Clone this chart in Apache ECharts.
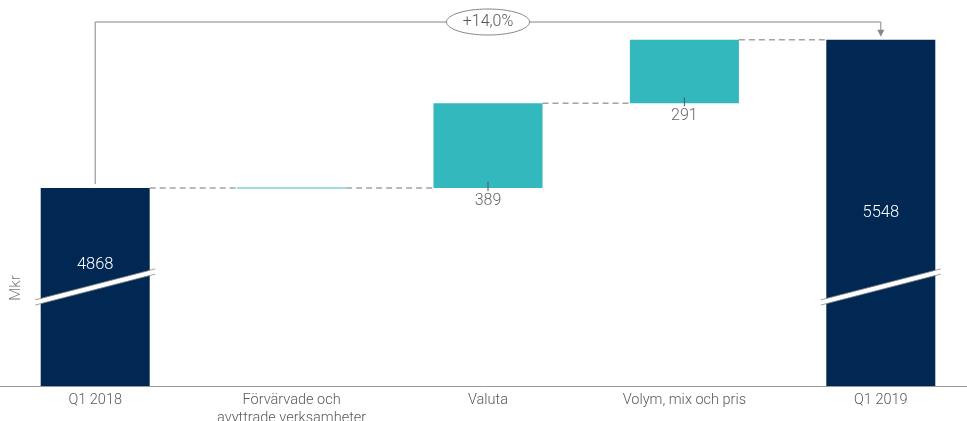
<!DOCTYPE html>
<html><head><meta charset="utf-8">
<script src="https://cdn.jsdelivr.net/npm/echarts@6/dist/echarts.min.js"></script>
<style>html,body{margin:0;padding:0;background:#fff}#c{width:967px;height:421px}</style>
</head><body><div id="c"></div>
<script>
const categories = ['Q1 2018', 'Förvärvade och\navyttrade verksamheter', 'Valuta', 'Volym, mix och pris', 'Q1 2019'];
const startTotal = 4868;
const endTotal = 5548;
const deltas = [0, 389, 291];
const changeLabel = '+14,0%';
const yAxisName = 'Mkr';
const yMin = 3960;
const yMax = 5630;

const NAVY = '#012753', TEAL = '#32b8bd', GREY = '#666';
const BAR_W = 109;
const FONT = 'Roboto';

// build series arrays
const n = categories.length;
const cum = [startTotal];
deltas.forEach(d => cum.push(cum[cum.length - 1] + d));
const baseVals = [0], deltaVals = [0], totalVals = [startTotal];
deltas.forEach((d, i) => { baseVals.push(cum[i]); deltaVals.push(d); totalVals.push(0); });
baseVals.push(0); deltaVals.push(0); totalVals.push(endTotal);

const chart = echarts.init(document.getElementById('c'));
chart.setOption({
  animation: false,
  grid: { left: -3, right: -12, top: 22, bottom: 35, outerBoundsMode: 'none', containLabel: false },
  xAxis: {
    type: 'category', data: categories,
    axisLine: { lineStyle: { color: '#9a9a9a', width: 1 } },
    axisTick: { show: false },
    axisLabel: { color: '#595959', fontSize: 14.5, fontFamily: FONT, fontWeight: 300, margin: 5, lineHeight: 18, interval: 0 }
  },
  yAxis: { type: 'value', min: yMin, max: yMax, show: false, splitLine: { show: false } },
  series: [
    { type: 'bar', stack: 'w', barWidth: BAR_W, data: baseVals, itemStyle: { color: 'transparent' }, silent: true },
    { type: 'bar', stack: 'w', barWidth: BAR_W, data: deltaVals, itemStyle: { color: TEAL },
      label: { show: true, position: 'bottom', distance: 5, color: GREY, fontSize: 16, fontFamily: FONT, fontWeight: 300,
        formatter: p => p.value ? String(p.value) : '' } },
    { type: 'bar', stack: 'w', barWidth: BAR_W,
      data: totalVals.map((v, i) => i === 0 ? { value: v, label: { offset: [0, -22] } } : v),
      itemStyle: { color: NAVY },
      label: { show: true, position: 'inside', color: '#fff', fontSize: 16.5, fontFamily: FONT, fontWeight: 300,
        formatter: p => p.value ? String(p.value) : '' } },
    { type: 'custom', z: 10, data: [[0, startTotal]],
      renderItem: function (params, api) {
        const ch = [];
        const pt = (i, v) => api.coord([i, v]);
        const half = BAR_W / 2;
        // connectors
        for (let i = 0; i < n - 1; i++) {
          const a = pt(i, cum[i]), b = pt(i + 1, cum[i]);
          ch.push({ type: 'line', shape: { x1: a[0] + half, y1: a[1], x2: b[0] - half, y2: b[1] },
            style: { stroke: '#a3a3a3', lineWidth: 1.5, lineDash: [6, 4] } });
        }
        // zero deltas & value ticks
        deltas.forEach((d, k) => {
          const i = k + 1;
          const c = pt(i, cum[k]);
          if (d === 0) {
            ch.push({ type: 'line', shape: { x1: c[0] - half, y1: c[1], x2: c[0] + half, y2: c[1] },
              style: { stroke: '#7fd3d6', lineWidth: 1.5 } });
          } else {
            ch.push({ type: 'line', shape: { x1: c[0], y1: c[1] - 6, x2: c[0], y2: c[1] + 3 },
              style: { stroke: '#555', lineWidth: 1 } });
          }
        });
        // axis breaks on total bars
        const bottom = pt(0, yMin)[1];
        [0, n - 1].forEach(i => {
          const cx = pt(i, yMin)[0], cy = bottom - 99;
          const L = 60, s = 15.5, t = 2.6;
          ch.push({ type: 'polygon', shape: { points: [[cx - L, cy + s - t], [cx + L, cy - s - t], [cx + L, cy - s + t], [cx - L, cy + s + t]] },
            style: { fill: '#fff' } });
          ch.push({ type: 'line', shape: { x1: cx - L, y1: cy + s - t, x2: cx + L, y2: cy - s - t }, style: { stroke: '#8a8a8a', lineWidth: 0.8 } });
          ch.push({ type: 'line', shape: { x1: cx - L, y1: cy + s + t, x2: cx + L, y2: cy - s + t }, style: { stroke: '#8a8a8a', lineWidth: 0.8 } });
        });
        // bracket
        const s0 = pt(0, startTotal), e0 = pt(n - 1, endTotal), top = pt(0, yMax)[1];
        const BC = '#8c8480';
        ch.push({ type: 'polyline', shape: { points: [[s0[0], s0[1] - 4], [s0[0], top], [e0[0], top], [e0[0], e0[1] - 8]] },
          style: { stroke: BC, lineWidth: 1, fill: null } });
        ch.push({ type: 'polygon', shape: { points: [[e0[0] - 3.5, e0[1] - 10], [e0[0] + 3.5, e0[1] - 10], [e0[0], e0[1] - 3]] },
          style: { fill: BC } });
        const mx = (s0[0] + e0[0]) / 2;
        ch.push({ type: 'ellipse', shape: { cx: mx, cy: top, rx: 41.5, ry: 13 }, style: { fill: '#fff', stroke: BC, lineWidth: 1 } });
        ch.push({ type: 'text', x: mx, y: top, style: { text: changeLabel, fill: '#555', font: '300 16px ' + FONT, align: 'center', verticalAlign: 'middle' } });
        // y name
        ch.push({ type: 'text', x: 16, y: bottom - 98, rotation: Math.PI / 2,
          style: { text: yAxisName, fill: '#777', font: '300 15px ' + FONT, align: 'center', verticalAlign: 'middle' } });
        return { type: 'group', children: ch };
      }
    }
  ]
});
</script></body></html>
